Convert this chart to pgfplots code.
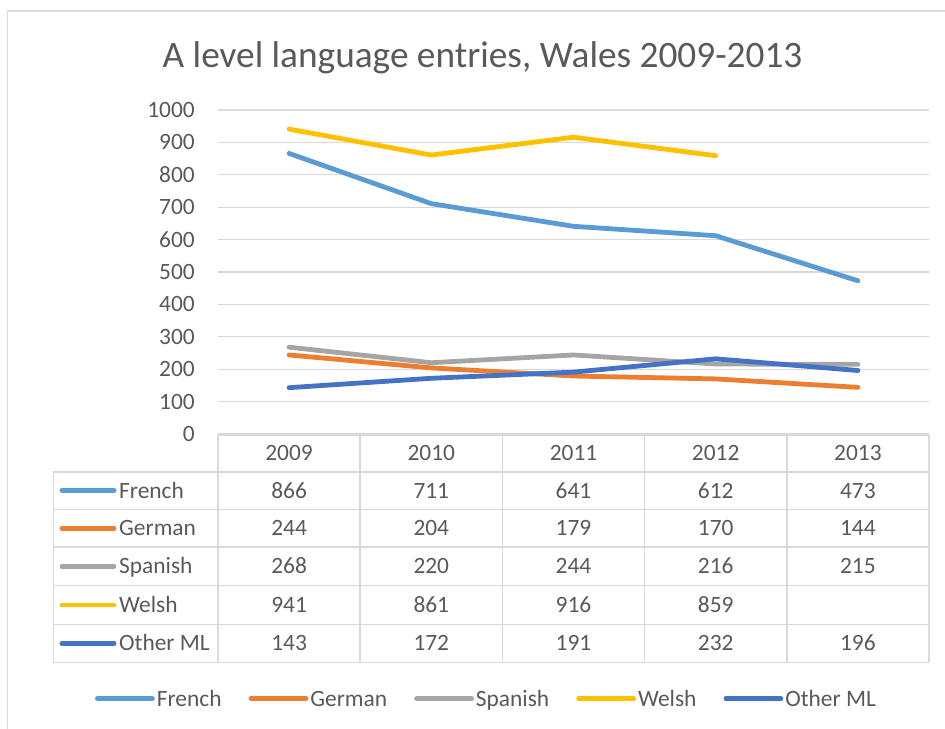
\documentclass[border=0pt]{standalone}
\usepackage{fontspec}
\setmainfont{Carlito}
\usepackage{pgfplots}
\pgfplotsset{compat=1.18}
\definecolor{cFr}{HTML}{5B9BD5}
\definecolor{cDe}{HTML}{ED7D31}
\definecolor{cEs}{HTML}{A5A5A5}
\definecolor{cCy}{HTML}{FFC000}
\definecolor{cOt}{HTML}{4472C4}
\definecolor{txt}{HTML}{595959}
\definecolor{grd}{HTML}{D9D9D9}
\newcommand{\fs}{\fontsize{23.4bp}{28bp}\selectfont}
\begin{document}
\begin{tikzpicture}
\path[use as bounding box] (0bp,0bp) rectangle (945bp,-729bp);
\begin{axis}[
  at={(218bp,-434bp)}, anchor=south west,
  scale only axis, width=711bp, height=324bp,
  xmin=-0.5, xmax=4.5, ymin=0, ymax=1000,
  xtick=\empty, ytick={0,100,...,1000},
  ymajorgrids, grid style={grd, line width=1.3bp},
  axis line style={draw=none}, major tick length=0pt,
  /pgf/number format/assume math mode=true,
  /pgf/number format/1000 sep={},
  yticklabel style={font=\fs, text=txt, anchor=east, inner sep=0pt, xshift=-23bp},
  clip=false,
  every axis plot/.append style={line width=4.8bp, line cap=round, line join=round},
  legend columns=5,
  legend image code/.code={\draw[#1, line width=4.8bp, line cap=round] (0bp,0bp) -- (55bp,0bp);},
  legend style={at={(0.3776,-0.817)}, anchor=center, draw=none, fill=none,
    font=\fs, text=txt, nodes={inner sep=2bp, text height=15bp, text depth=0pt},
    /tikz/every even column/.append style={column sep=25bp}},
]
\addplot[cFr] coordinates {(0,866) (1,711) (2,641) (3,612) (4,473)};
\addlegendentry{French}
\addplot[cDe] coordinates {(0,244) (1,204) (2,179) (3,170) (4,144)};
\addlegendentry{German}
\addplot[cEs] coordinates {(0,268) (1,220) (2,244) (3,216) (4,215)};
\addlegendentry{Spanish}
\addplot[cCy] coordinates {(0,941) (1,861) (2,916) (3,859)};
\addlegendentry{Welsh}
\addplot[cOt] coordinates {(0,143) (1,172) (2,191) (3,232) (4,196)};
\addlegendentry{Other ML}
\end{axis}
\begin{scope}[x=1bp, y=-1bp]
  % frame
  \draw[grd, line width=1.2bp] (7.5,729) -- (7.5,11) -- (945,11);
  % title
  \node[text=txt, font=\fontsize{37.3bp}{44bp}\selectfont, anchor=base] at (482.5,67) {A level language entries, Wales 2009-2013};
  % table grid
  \begin{scope}[grd, line width=1.6bp]
    \draw (218,435) -- (929,435);
    \foreach \y in {471.7,509.3,547.2,585.6,624.3,662.3} \draw (53.3,\y) -- (929,\y);
    \draw (53.3,471.7) -- (53.3,662.3);
    \foreach \x in {218,360.2,502.4,644.6,786.8,929} \draw (\x,435) -- (\x,662.3);
  \end{scope}
  \tikzset{cell/.style={text=txt, font=\fs, inner sep=0pt, anchor=base}}
  % header
  \foreach \yr [count=\i from 0] in {2009,2010,2011,2012,2013}
    \node[cell] at (289.1+142.2*\i,453.3+7.5) {\yr};
  % rows
  \foreach \nm/\col/\yy/\a/\b/\c/\d/\e in {
      French/cFr/490.5/866/711/641/612/473,
      German/cDe/528.3/244/204/179/170/144,
      Spanish/cEs/566.4/268/220/244/216/215,
      Welsh/cCy/605.0/941/861/916/859/,
      Other ML/cOt/643.3/143/172/191/232/196}{
    \draw[\col, line width=4.8bp, line cap=round] (62,\yy) -- (114,\yy);
    \node[cell, anchor=base west] at (119,\yy+7.5) {\nm};
    \node[cell] at (289.1,\yy+7.5) {\a};
    \node[cell] at (431.3,\yy+7.5) {\b};
    \node[cell] at (573.5,\yy+7.5) {\c};
    \node[cell] at (715.7,\yy+7.5) {\d};
    \node[cell] at (857.9,\yy+7.5) {\e};
  }
\end{scope}
\end{tikzpicture}
\end{document}
